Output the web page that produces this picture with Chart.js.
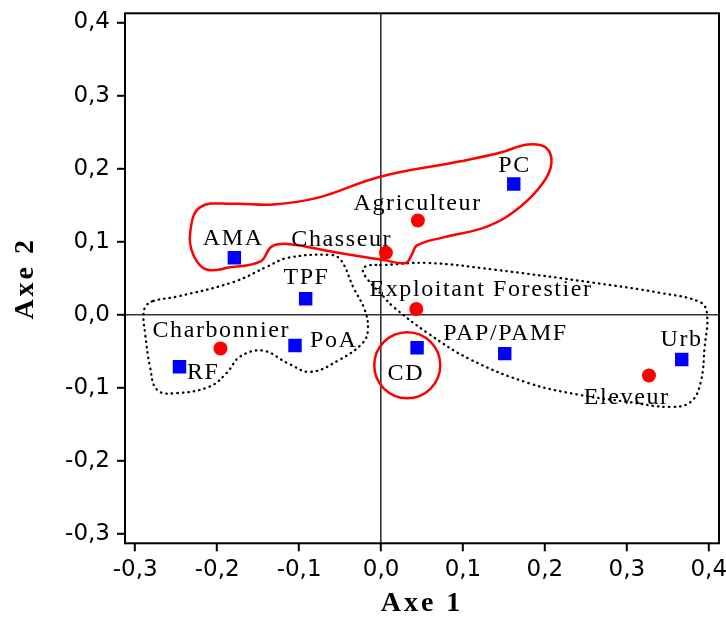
<!DOCTYPE html>
<html><head><meta charset="utf-8">
<script src="https://cdn.jsdelivr.net/npm/chart.js@4.4.1/dist/chart.umd.min.js"></script>
<style>html,body{margin:0;padding:0;background:#fff;}#wrap{width:726px;height:618px;}</style>
</head><body><div id="wrap"><canvas id="c" width="726" height="618"></canvas></div>
<script>
// ---- data ----
const squareNames = ['AMA', 'TPF', 'RF', 'PoA', 'CD', 'PC', 'PAP/PAMF', 'Urb'];
const squareX = [-0.179, -0.092, -0.246, -0.105, 0.044, 0.162, 0.151, 0.367];
const squareY = [0.078, 0.022, -0.071, -0.042, -0.045, 0.179, -0.053, -0.061];

const circleNames = ['Charbonnier', 'Chasseur', 'Agriculteur', 'Exploitant Forestier', 'Eleveur'];
const circleX = [-0.196, 0.006, 0.045, 0.043, 0.327];
const circleY = [-0.046, 0.085, 0.129, 0.008, -0.083];

const xTicks = [-0.3, -0.2, -0.1, 0.0, 0.1, 0.2, 0.3, 0.4];
const yTicks = [-0.3, -0.2, -0.1, 0.0, 0.1, 0.2, 0.3, 0.4];

// hand-drawn grouping outlines (data coordinates)
const redLoop = [
  [-0.221, 0.147], [-0.180, 0.152], [-0.132, 0.151], [-0.078, 0.160], [-0.001, 0.189],
  [0.097, 0.210], [0.146, 0.222], [0.179, 0.233], [0.201, 0.229], [0.208, 0.208],
  [0.198, 0.181], [0.170, 0.148], [0.130, 0.121], [0.076, 0.106], [0.044, 0.095],
  [0.037, 0.081], [0.030, 0.071], [0.003, 0.075], [-0.058, 0.086], [-0.114, 0.097],
  [-0.134, 0.093], [-0.147, 0.073], [-0.184, 0.065], [-0.213, 0.062], [-0.229, 0.082],
  [-0.233, 0.112]
];
const leftLoop = [
  [-0.278, 0.019], [-0.249, 0.025], [-0.180, 0.045], [-0.139, 0.066], [-0.114, 0.078],
  [-0.062, 0.082], [-0.049, 0.075], [-0.034, 0.038], [-0.020, 0.007], [-0.016, -0.020],
  [-0.022, -0.038], [-0.050, -0.061], [-0.086, -0.078], [-0.114, -0.066], [-0.144, -0.049],
  [-0.172, -0.057], [-0.188, -0.079], [-0.209, -0.098], [-0.249, -0.107], [-0.273, -0.103],
  [-0.282, -0.071], [-0.288, -0.025], [-0.290, 0.000], [-0.287, 0.012]
];
const rightLoop = [
  [-0.001, 0.068], [0.057, 0.071], [0.137, 0.062], [0.259, 0.044], [0.341, 0.030],
  [0.390, 0.017], [0.398, 0.000], [0.395, -0.044], [0.390, -0.093], [0.378, -0.119],
  [0.353, -0.126], [0.301, -0.119], [0.240, -0.109], [0.179, -0.093], [0.109, -0.061],
  [0.057, -0.025], [0.015, 0.011], [0.003, 0.025], [-0.018, 0.051], [-0.022, 0.063],
  [-0.013, 0.068]
];
const cdRing = [[0.032, -0.069]];

// ---- helpers ----
const fmt = v => Number(v).toFixed(1).replace('.', ',');
const toPts = (xs, ys) => xs.map((x, i) => ({x, y: ys[i]}));
// closed smooth loop: wrap with neighbours, hide the two helper segments
function loopData(loop) {
  const n = loop.length;
  const seq = [loop[n - 1], ...loop, loop[0], loop[1]];
  return seq.map(p => ({x: p[0], y: p[1]}));
}
function loopSegment(loop) {
  const n = loop.length;
  return {
    borderColor: c => (c.p0DataIndex === 0 || c.p0DataIndex === n + 1) ? 'rgba(0,0,0,0)' : undefined
  };
}

// label placement (pixel offsets of label centre/baseline from the marker)
const labelOffsets = {
  'AMA': [-2, -13], 'TPF': [0, -15], 'RF': [23, 12], 'PoA': [38, 1], 'CD': [-12, 32],
  'PC': [0, -12], 'PAP/PAMF': [0, -14], 'Urb': [-1, -13],
  'Charbonnier': [0, -11], 'Chasseur': [-45, -7], 'Agriculteur': [-1, -11],
  'Exploitant Forestier': [64, -13], 'Eleveur': [-23, 28]
};

const labelPlugin = {
  id: 'pointNamesAndFrame',
  beforeDraw(chart) { chart.ctx.letterSpacing = '3px'; },
  beforeDatasetsDraw(chart) { chart.ctx.letterSpacing = '0px'; },
  afterDatasetsDraw(chart) {
    const ctx = chart.ctx, xs = chart.scales.x, ys = chart.scales.y, a = chart.chartArea;
    ctx.save();
    ctx.strokeStyle = '#000';
    ctx.lineWidth = 2;
    ctx.strokeRect(a.left, a.top, a.right - a.left, a.bottom - a.top);
    ctx.letterSpacing = '1.6px';
    ctx.font = '24px "Liberation Serif"';
    ctx.fillStyle = '#000';
    ctx.textAlign = 'center';
    ctx.textBaseline = 'alphabetic';
    chart.data.datasets.forEach(ds => {
      if (!ds.pointNames) return;
      ds.data.forEach((p, i) => {
        const name = ds.pointNames[i];
        const off = labelOffsets[name] || [0, -12];
        ctx.fillText(name, xs.getPixelForValue(p.x) + off[0] + 0.8, ys.getPixelForValue(p.y) + off[1]);
      });
    });
    ctx.restore();
    ctx.letterSpacing = '0px';
  }
};

const tickFont = {family: '"DejaVu Sans"', size: 23};
const titleFont = {family: '"Liberation Serif"', size: 28, weight: 'bold', lineHeight: 1};
const gridCfg = {
  drawOnChartArea: true,
  color: c => (c.tick && c.tick.value === 0) ? '#333' : 'rgba(0,0,0,0)',
  lineWidth: 1.6,
  tickColor: '#000',
  tickLength: 8,
  tickWidth: 2
};

const loopStyle = {showLine: true, pointRadius: 0, pointHoverRadius: 0, tension: 0.4, fill: false, order: 2};

new Chart(document.getElementById('c'), {
  type: 'scatter',
  data: {
    datasets: [
      {label: 'squares', data: toPts(squareX, squareY), pointNames: squareNames,
       pointStyle: 'rect', pointRadius: 9.5, pointHoverRadius: 9.5, pointBorderWidth: 0,
       backgroundColor: '#0000ff', borderColor: '#0000ff', order: 0},
      {label: 'circles', data: toPts(circleX, circleY), pointNames: circleNames,
       pointStyle: 'circle', pointRadius: 7, pointHoverRadius: 7, pointBorderWidth: 0,
       backgroundColor: '#ff0000', borderColor: '#ff0000', order: 0},
      Object.assign({label: 'red group', data: loopData(redLoop), segment: loopSegment(redLoop),
       borderColor: '#ff0000', borderWidth: 2.5}, loopStyle),
      Object.assign({label: 'left group', data: loopData(leftLoop), segment: loopSegment(leftLoop),
       borderColor: '#000', borderWidth: 2.3, borderDash: [0.5, 5], borderCapStyle: 'round'}, loopStyle),
      Object.assign({label: 'right group', data: loopData(rightLoop), segment: loopSegment(rightLoop),
       borderColor: '#000', borderWidth: 2.3, borderDash: [0.5, 5], borderCapStyle: 'round'}, loopStyle),
      {label: 'CD ring', data: cdRing.map(p => ({x: p[0], y: p[1]})),
       pointStyle: 'circle', pointRadius: 33, pointHoverRadius: 33,
       pointBackgroundColor: 'rgba(0,0,0,0)', pointBorderColor: '#ff0000', pointBorderWidth: 2.5, order: 1}
    ]
  },
  options: {
    responsive: false,
    animation: false,
    devicePixelRatio: 1,
    events: [],
    layout: {autoPadding: false, padding: {left: 0, top: 13.3, right: 7, bottom: 0}},
    plugins: {legend: {display: false}, tooltip: {enabled: false}},
    scales: {
      x: {
        type: 'linear', position: 'bottom', min: -0.3125, max: 0.4125,
        afterBuildTicks: s => { s.ticks = xTicks.map(v => ({value: v})); },
        afterFit: s => { s.height = 74.7; s.paddingLeft = 0; s.paddingRight = 0; },
        grid: gridCfg,
        border: {display: false},
        ticks: {z: 1, padding: 5, color: '#000', font: tickFont, maxRotation: 0, autoSkip: false, callback: v => fmt(v)},
        title: {display: true, text: 'Axe 1', color: '#000', font: titleFont, padding: {top: 0, bottom: 0}}
      },
      y: {
        type: 'linear', position: 'left', min: -0.3125, max: 0.4125,
        afterBuildTicks: s => { s.ticks = yTicks.map(v => ({value: v})); },
        afterFit: s => { s.width = 125; s.paddingTop = 0; s.paddingBottom = 0; },
        grid: gridCfg,
        border: {display: false},
        ticks: {z: 1, padding: 7, color: '#000', font: tickFont, autoSkip: false, callback: v => fmt(v)},
        title: {display: true, text: 'Axe 2', color: '#000', font: titleFont, padding: {top: 11.5, bottom: 0}}
      }
    }
  },
  plugins: [labelPlugin]
});
</script>
</body></html>
